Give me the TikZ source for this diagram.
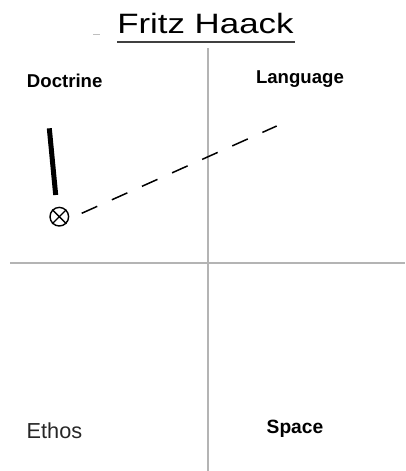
\documentclass[tikz,border=0pt]{standalone}
\usepackage{fontspec}
\setmainfont{Liberation Sans}
\usetikzlibrary{calc}
\definecolor{axisgray}{HTML}{B4B4B4}
\definecolor{ulgray}{HTML}{404040}
\tikzset{
  axis/.style={draw=axisgray, line width=2pt},
  lbl/.style={anchor=base west, inner sep=0pt, outer sep=0pt},
  boldlbl/.style={lbl, font=\fontsize{18.6}{20}\selectfont\bfseries},
  reglbl/.style={lbl, font=\fontsize{21.7}{24}\selectfont, text=black!85},
  marker/.style={circle, draw, line width=1.4pt, minimum size=18.6pt, inner sep=0pt},
}
\begin{document}
\begin{tikzpicture}[x=1pt, y=-1pt]
\useasboundingbox (0,0) rectangle (405,471);
% axes
\coordinate (vtop) at (207.7,48);
\coordinate (vbot) at (207.7,471);
\coordinate (hl) at (10,262.7);
\coordinate (hr) at (405,262.7);
\draw[axis] (vtop) -- (vbot);
\draw[axis] (hl) -- (hr);
% title
\node[lbl, font=\fontsize{28}{30}\selectfont] (title) at (117.3,33.3) {\scalebox{1.245}[1]{Fritz Haack}};
\draw[ulgray, line width=2pt] ($(title.base west)+(0,9)$) -- ($(title.base east)+(1,9)$);
\coordinate (da) at (93,34.3);
\coordinate (db) at (100,34.3);
\draw[black!25, line width=1pt] (da) -- (db);
% labels
\node[boldlbl] (doctrine) at (27,87.3) {Doctrine};
\node[boldlbl] (language) at (256,83.3) {Language};
\node[reglbl] (ethos) at (26.7,438.3) {Ethos};
\node[boldlbl, font=\fontsize{19.2}{21}\selectfont\bfseries] (space) at (266.7,433.3) {Space};
% thick bar
\coordinate (ta) at (49.3,128.3);
\coordinate (tb) at (55.7,195);
\draw[line width=5pt] (ta) -- (tb);
% marker
\node[marker] (m) at (59.3,216.7) {};
\draw[line width=1.4pt] (m.45) -- (m.225) (m.135) -- (m.315);
% dashed line
\coordinate (ds) at (81.7,213.3);
\coordinate (de) at (276.7,126);
\draw[line width=1.5pt, dash pattern=on 17pt off 16pt] (ds) -- (de);
\end{tikzpicture}
\end{document}
